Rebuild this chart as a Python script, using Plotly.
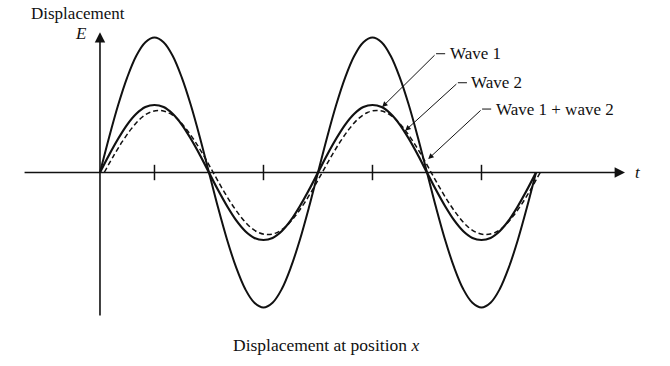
import plotly.graph_objects as go

# Phase (degrees) along the t axis
t_deg = [0, 15, 30, 45, 60, 75, 90, 105, 120, 135, 150, 165, 180,
         195, 210, 225, 240, 255, 270, 285, 300, 315, 330, 345, 360,
         375, 390, 405, 420, 435, 450, 465, 480, 495, 510, 525, 540,
         555, 570, 585, 600, 615, 630, 645, 660, 675, 690, 705, 720]
# Wave 2 (dashed) lags slightly behind wave 1
t2_deg = [7, 22, 37, 52, 67, 82, 97, 112, 127, 142, 157, 172, 187,
          202, 217, 232, 247, 262, 277, 292, 307, 322, 337, 352, 367,
          382, 397, 412, 427, 442, 457, 472, 487, 502, 517, 532, 547,
          562, 577, 592, 607, 622, 637, 652, 667, 682, 697, 712, 727]

wave1 = [0, 0.26, 0.5, 0.71, 0.87, 0.97, 1.0, 0.97, 0.87, 0.71, 0.5, 0.26, 0,
         -0.26, -0.5, -0.71, -0.87, -0.97, -1.0, -0.97, -0.87, -0.71, -0.5, -0.26, 0,
         0.26, 0.5, 0.71, 0.87, 0.97, 1.0, 0.97, 0.87, 0.71, 0.5, 0.26, 0,
         -0.26, -0.5, -0.71, -0.87, -0.97, -1.0, -0.97, -0.87, -0.71, -0.5, -0.26, 0]
wave2 = [0, 0.24, 0.46, 0.65, 0.8, 0.89, 0.92, 0.89, 0.8, 0.65, 0.46, 0.24, 0,
         -0.24, -0.46, -0.65, -0.8, -0.89, -0.92, -0.89, -0.8, -0.65, -0.46, -0.24, 0,
         0.24, 0.46, 0.65, 0.8, 0.89, 0.92, 0.89, 0.8, 0.65, 0.46, 0.24, 0,
         -0.24, -0.46, -0.65, -0.8, -0.89, -0.92, -0.89, -0.8, -0.65, -0.46, -0.24, 0]
wave_sum = [0, 0.52, 1.0, 1.41, 1.73, 1.93, 2.0, 1.93, 1.73, 1.41, 1.0, 0.52, 0,
            -0.52, -1.0, -1.41, -1.73, -1.93, -2.0, -1.93, -1.73, -1.41, -1.0, -0.52, 0,
            0.52, 1.0, 1.41, 1.73, 1.93, 2.0, 1.93, 1.73, 1.41, 1.0, 0.52, 0,
            -0.52, -1.0, -1.41, -1.73, -1.93, -2.0, -1.93, -1.73, -1.41, -1.0, -0.52, 0]

tick_pos = [90, 270, 450, 630]

labels = ["Wave 1", "Wave 2", "Wave 1 + wave 2"]
label_tip_t = [466, 504, 542]
label_tip_y = [0.97, 0.62, 0.2]
label_bend_t = [555, 591, 631]
label_bend_y = [1.76, 1.33, 0.94]

INK = "#111111"
FONT = "Liberation Serif, Times New Roman, serif"

fig = go.Figure()

fig.add_trace(go.Scatter(x=t_deg, y=wave_sum, mode="lines",
                         line=dict(color=INK, width=2, shape="spline"),
                         hoverinfo="skip"))
fig.add_trace(go.Scatter(x=t_deg, y=wave1, mode="lines",
                         line=dict(color=INK, width=2.2, shape="spline"),
                         hoverinfo="skip"))
fig.add_trace(go.Scatter(x=t2_deg, y=wave2, mode="lines",
                         line=dict(color=INK, width=1.5, shape="spline", dash="5px,3px"),
                         hoverinfo="skip"))
# tick marks on the t axis
fig.add_trace(go.Scatter(x=tick_pos, y=[0] * len(tick_pos), mode="markers",
                         marker=dict(symbol="line-ns-open", size=11, color=INK,
                                     line=dict(color=INK, width=1.5)),
                         hoverinfo="skip"))

shapes = []
annotations = []

# axes with arrowheads
annotations.append(dict(x=867, y=0, ax=-127, ay=0, xref="x", yref="y",
                        axref="x", ayref="y", text="", showarrow=True,
                        arrowhead=2, arrowsize=1.3, arrowwidth=1.6, arrowcolor=INK))
annotations.append(dict(x=0, y=2.08, ax=0, ay=-2.14, xref="x", yref="y",
                        axref="x", ayref="y", text="", showarrow=True,
                        arrowhead=2, arrowsize=1.3, arrowwidth=1.6, arrowcolor=INK))

# leader lines and labels
for lab, tx, ty, bx, by in zip(labels, label_tip_t, label_tip_y, label_bend_t, label_bend_y):
    annotations.append(dict(x=tx, y=ty, ax=bx, ay=by, xref="x", yref="y",
                            axref="x", ayref="y", text="", showarrow=True,
                            arrowhead=2, arrowsize=1.1, arrowwidth=1.0, arrowcolor=INK))
    shapes.append(dict(type="line", x0=bx, y0=by, x1=bx + 15, y1=by,
                       xref="x", yref="y", line=dict(color=INK, width=1)))
    annotations.append(dict(x=bx + 19, y=by, xref="x", yref="y", text=lab,
                            showarrow=False, xanchor="left", yanchor="middle",
                            font=dict(family=FONT, size=17, color=INK)))

annotations.append(dict(x=0.1164, y=0.962, xref="paper", yref="paper",
                        xanchor="center", yanchor="middle",
                        text="Displacement", showarrow=False,
                        font=dict(family=FONT, size=17, color=INK)))
annotations.append(dict(x=0.121, y=0.908, xref="paper", yref="paper",
                        xanchor="center", yanchor="middle",
                        text="<i>E</i>", showarrow=False,
                        font=dict(family=FONT, size=17, color=INK)))
annotations.append(dict(x=0.952, y=0.53, xref="paper", yref="paper",
                        xanchor="center", yanchor="middle",
                        text="<i>t</i>", showarrow=False,
                        font=dict(family=FONT, size=17, color=INK)))
annotations.append(dict(x=0.4866, y=0.057, xref="paper", yref="paper",
                        xanchor="center", yanchor="middle",
                        text="Displacement at position <i>x</i>", showarrow=False,
                        font=dict(family=FONT, size=17.5, color=INK)))

fig.update_layout(
    width=670, height=366,
    margin=dict(l=0, r=0, t=0, b=0),
    paper_bgcolor="white", plot_bgcolor="white",
    showlegend=False,
    xaxis=dict(visible=False, range=[-165.1, 941.3], fixedrange=True),
    yaxis=dict(visible=False, range=[-2.867, 2.556], fixedrange=True),
    shapes=shapes,
    annotations=annotations,
)

fig.write_html("out.html")
